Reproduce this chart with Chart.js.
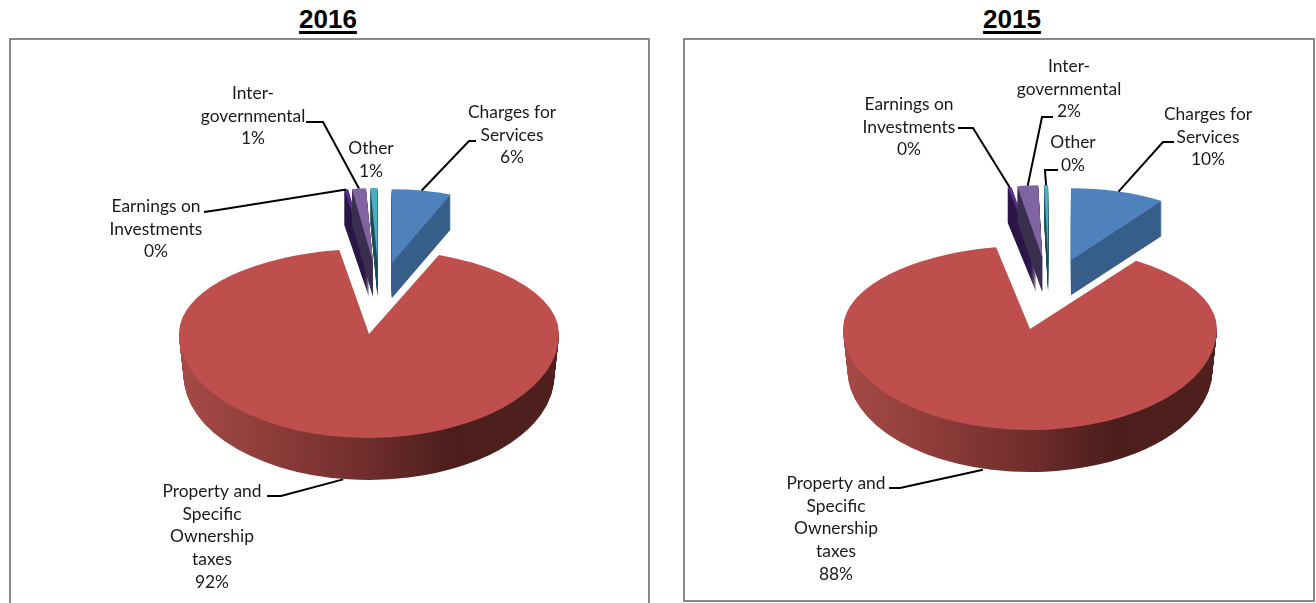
<!DOCTYPE html>
<html>
<head>
<meta charset="utf-8">
<script src="https://cdn.jsdelivr.net/npm/chart.js@4"></script>
<style>
  html, body { margin: 0; padding: 0; width: 1316px; height: 603px; overflow: hidden; background: #fff; }
  .title { position: absolute; top: 4px; width: 200px; text-align: center; font: bold 26px "Liberation Sans", sans-serif; color: #000; text-decoration: underline; text-decoration-thickness: 3px; text-underline-offset: 3px; }
  canvas { position: absolute; display: block; }
  .frame { position: absolute; box-sizing: border-box; border: 2px solid #888; }
</style>
</head>
<body>
<div class="title" style="left:228px">2016</div>
<div class="title" style="left:912px">2015</div>
<div class="frame" style="left:9px;top:38px;width:641px;height:580px"></div>
<div class="frame" style="left:683px;top:38px;width:632px;height:564px"></div>
<canvas id="pie-2016" width="1316" height="603" style="left:0;top:0"></canvas>
<canvas id="pie-2015" width="1316" height="603" style="left:0;top:0"></canvas>
<script>
const categories = ['Charges for Services', 'Property and Specific Ownership taxes', 'Earnings on Investments', 'Inter-governmental', 'Other'];
const labelLines = [
  ['Charges for', 'Services'],
  ['Property and', 'Specific', 'Ownership', 'taxes'],
  ['Earnings on', 'Investments'],
  ['Inter-', 'governmental'],
  ['Other']
];
const values2016 = [6.0, 91.5, 0.4, 1.4, 0.7];
const values2015 = [9.6, 87.5, 0.4, 2.1, 0.4];

const topColors = ['#4f81bd', '#be4f4c', '#5b2a8f', '#8064a2', '#4bacc6'];
const sideColors = ['#385e8a', null, '#2c1748', '#3b3050', '#1f4f5c'];

// label centre + first line y, elbows run from the label towards the slice
const view2016 = {
  cx: 369, cy: 334, rx: 190, ryBack: 85, ryFront: 104, leadShift: -5,
  backX: 379, backY: 330, explode: 68, backRy: 74,
  labels: [[512, 112], [212, 491], [156, 206], [253, 93], [371, 148]],
  elbows: [[[476, 141], [469, 141]], [[267, 496], [281, 496]], [[204, 212], [218, 210]], [[306, 122], [323, 122]], []]
};
const view2015 = {
  cx: 1030, cy: 329, rx: 187, ryBack: 83, ryFront: 101, leadShift: -8,
  backX: 1049, backY: 331, explode: 74, backRy: 72,
  labels: [[1208, 114], [836, 483], [909, 104], [1069, 66], [1073, 142]],
  elbows: [[[1174, 142], [1163, 142]], [[889, 488], [900, 488]], [[958, 128], [973, 128]], [[1053, 117], [1042, 117]], [[1058, 170], [1045, 170]]]
};

const mainDepth = 42;
const backRx = 160, backDepth = 35;
const bigSlice = 1;

function drawFace(ctx, arc, x, y, rx, ry, fill) {
  const opts = arc.options;
  ctx.save();
  ctx.translate(x, y);
  ctx.scale(1, ry / rx);
  arc.x = 0;
  arc.y = 0;
  arc.outerRadius = rx;
  arc.options = Object.assign({}, opts, { backgroundColor: fill, borderWidth: 0 });
  arc.draw(ctx);
  arc.options = opts;
  ctx.restore();
}

function clipped(ctx, x, y, back, fn) {
  ctx.save();
  ctx.beginPath();
  if (back) ctx.rect(x - 400, y - 300, 800, 300.5);
  else ctx.rect(x - 400, y, 800, 300);
  ctx.clip();
  fn();
  ctx.restore();
}

function slicePhi(arc) {
  return (arc.startAngle + arc.endAngle) / 2 + Math.PI / 2;
}

function backApex(arc, view) {
  const phi = slicePhi(arc);
  return { x: view.backX + view.explode * Math.sin(phi), y: view.backY - view.explode * Math.cos(phi) };
}

function rimPoint(arc, i, view) {
  const phi = slicePhi(arc);
  if (i === bigSlice) {
    return { x: view.cx + view.rx * Math.sin(phi) + view.leadShift, y: view.cy - view.ryFront * Math.cos(phi) + mainDepth };
  }
  const a = backApex(arc, view);
  return { x: a.x + backRx * Math.sin(phi), y: a.y - view.backRy * Math.cos(phi) };
}

function drawBackSlice(ctx, arc, i, view) {
  const a = backApex(arc, view);
  for (let d = backDepth; d > 0; d--) {
    drawFace(ctx, arc, a.x, a.y + d, backRx, view.backRy, sideColors[i]);
  }
  drawFace(ctx, arc, a.x, a.y, backRx, view.backRy, topColors[i]);
}

function drawMainSlice(ctx, arc, i, view) {
  const x = view.cx, y = view.cy;
  const side = ctx.createLinearGradient(-view.rx, 0, view.rx, 0);
  side.addColorStop(0, '#a54b47');
  side.addColorStop(0.25, '#8d3c39');
  side.addColorStop(0.5, '#6f2d2c');
  side.addColorStop(0.72, '#4b1e1c');
  side.addColorStop(1, '#4f201e');
  clipped(ctx, x, y, false, () => {
    for (let d = mainDepth; d > 0; d--) {
      const rx = view.rx * (1 - 0.025 * d / mainDepth);
      ctx.save();
      ctx.beginPath();
      ctx.rect(x - 400, y + d, 800, 300);
      ctx.clip();
      drawFace(ctx, arc, x, y + d, rx, view.ryFront, side);
      ctx.restore();
    }
  });
  clipped(ctx, x, y, true, () => drawFace(ctx, arc, x, y, view.rx, view.ryBack, topColors[i]));
  clipped(ctx, x, y, false, () => drawFace(ctx, arc, x, y, view.rx, view.ryFront, topColors[i]));
}

function drawLabels(ctx, arcs, values, view) {
  ctx.strokeStyle = '#000';
  ctx.lineWidth = 2;
  ctx.fillStyle = '#1a1a1a';
  ctx.font = '17.4px Lato, sans-serif';
  ctx.textAlign = 'center';
  ctx.textBaseline = 'middle';
  arcs.forEach((arc, i) => {
    const elbows = view.elbows[i];
    if (elbows.length) {
      const rim = rimPoint(arc, i, view);
      ctx.beginPath();
      ctx.moveTo(elbows[0][0], elbows[0][1]);
      elbows.forEach((p) => ctx.lineTo(p[0], p[1]));
      ctx.lineTo(rim.x, rim.y);
      ctx.stroke();
    }
    const lines = labelLines[i].concat(Math.round(values[i]) + '%');
    lines.forEach((text, n) => {
      ctx.fillText(text, view.labels[i][0], view.labels[i][1] + n * 22.9);
    });
  });
}

const pie3d = {
  id: 'pie3d',
  beforeDatasetsDraw(chart, args, opts) {
    const ctx = chart.ctx;
    const arcs = chart.getDatasetMeta(0).data;
    [2, 3, 4, 0].forEach((i) => drawBackSlice(ctx, arcs[i], i, opts.view));
    drawMainSlice(ctx, arcs[bigSlice], bigSlice, opts.view);
    drawLabels(ctx, arcs, chart.data.datasets[0].data, opts.view);
    return false;
  }
};

function drawPie(id, values, view) {
  return new Chart(document.getElementById(id), {
    type: 'pie',
    data: {
      labels: categories,
      datasets: [{ data: values, backgroundColor: topColors, borderWidth: 0 }]
    },
    options: {
      responsive: false,
      animation: false,
      events: [],
      plugins: {
        legend: { display: false },
        tooltip: { enabled: false },
        pie3d: { view: view }
      }
    },
    plugins: [pie3d]
  });
}

drawPie('pie-2016', values2016, view2016);
drawPie('pie-2015', values2015, view2015);
</script>
</body>
</html>
